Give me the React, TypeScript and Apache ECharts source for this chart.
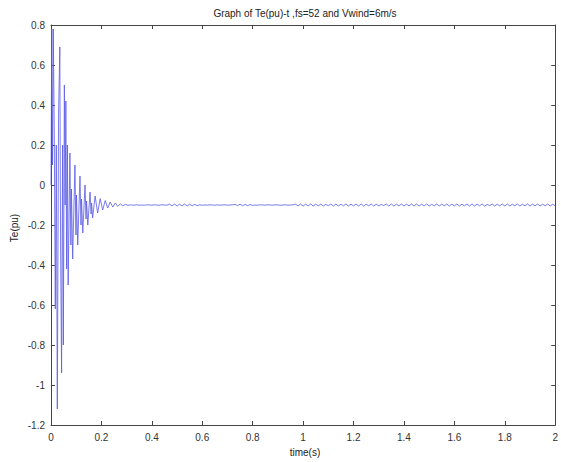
import React, { useEffect, useRef } from "react";
import * as echarts from "echarts";

const TITLE = "Graph of Te(pu)-t ,fs=52 and Vwind=6m/s";
const X_LABEL = "time(s)";
const Y_LABEL = "Te(pu)";
const X_MIN = 0, X_MAX = 2, X_STEP = 0.2;
const Y_MIN = -1.2, Y_MAX = 0.8, Y_STEP = 0.2;

// transient part [time (s), Te (pu)]
const transientTimes = [
  0, 0.003, 0.006, 0.009, 0.013, 0.017, 0.021, 0.025, 0.030, 0.035,
  0.038, 0.042, 0.046, 0.049, 0.053, 0.056, 0.059, 0.062, 0.065, 0.068,
  0.075, 0.079, 0.081, 0.086,
  0.095, 0.099, 0.101, 0.106,
  0.115, 0.119, 0.121, 0.126,
  0.135, 0.139, 0.141, 0.146,
  0.155, 0.159, 0.161, 0.165,
  0.175, 0.185, 0.195, 0.205, 0.215, 0.225, 0.235, 0.245, 0.255, 0.265,
  0.275, 0.285, 0.295, 0.305, 0.315,
];
const transientValues = [
  0, 0.78, 0.1, 0.78, 0.26, -0.62, 0.2, -1.12, 0.35, 0.69,
  -0.3, -0.94, 0.2, -0.8, 0.5, -0.1, 0.42, -0.42, 0.2, -0.5,
  0.16, -0.3, -0.02, -0.37,
  0.1, -0.25, -0.05, -0.3,
  0.045, -0.2, -0.07, -0.24,
  0.0, -0.17, -0.08, -0.2,
  -0.035, -0.145, -0.09, -0.165,
  -0.055, -0.14, -0.068, -0.125, -0.078, -0.115, -0.085, -0.11, -0.09, -0.107,
  -0.094, -0.104, -0.097, -0.102, -0.099,
];

// steady part, sampled every 0.01 s from 0.32 s to 2.00 s
const steadyStart = 0.32;
const steadyStep = 0.01;
const steadyValues = [
  // 0.32 - 0.46
  -0.100, -0.101, -0.099, -0.101, -0.100, -0.101, -0.099, -0.100, -0.101, -0.099, -0.100, -0.101, -0.099, -0.100, -0.101,
  // 0.47 - 0.58
  -0.096, -0.104, -0.095, -0.105, -0.096, -0.104, -0.095, -0.105, -0.096, -0.104, -0.097, -0.103,
  // 0.59 - 0.72
  -0.099, -0.101, -0.100, -0.101, -0.099, -0.100, -0.101, -0.099, -0.101, -0.100, -0.099, -0.101, -0.100, -0.099,
  // 0.73 - 0.80
  -0.097, -0.103, -0.096, -0.104, -0.097, -0.103, -0.098, -0.102,
  // 0.81 - 0.96
  -0.100, -0.101, -0.099, -0.100, -0.101, -0.099, -0.100, -0.101, -0.099, -0.100, -0.101, -0.100, -0.099, -0.101, -0.100, -0.099,
  // 0.97 - 2.00
  -0.096, -0.104, -0.095, -0.105, -0.096, -0.104, -0.095, -0.105,
  -0.096, -0.104, -0.095, -0.105, -0.097, -0.103, -0.095, -0.105,
  -0.095, -0.105, -0.096, -0.104, -0.095, -0.105, -0.096, -0.104,
  -0.095, -0.105, -0.095, -0.105, -0.096, -0.104, -0.095, -0.105,
  -0.096, -0.104, -0.097, -0.103, -0.095, -0.105, -0.095, -0.105,
  -0.096, -0.104, -0.095, -0.105, -0.096, -0.104, -0.095, -0.105,
  -0.095, -0.105, -0.096, -0.104, -0.095, -0.105, -0.097, -0.103,
  -0.095, -0.105, -0.096, -0.104, -0.095, -0.105, -0.096, -0.104,
  -0.095, -0.105, -0.096, -0.104, -0.095, -0.105, -0.095, -0.105,
  -0.096, -0.104, -0.095, -0.105, -0.097, -0.103, -0.095, -0.105,
  -0.096, -0.104, -0.095, -0.105, -0.095, -0.105, -0.096, -0.104,
  -0.095, -0.105, -0.096, -0.104, -0.095, -0.105, -0.096, -0.104,
  -0.095, -0.105, -0.096, -0.104, -0.095, -0.105, -0.096, -0.104,
];

const FONT = "'Liberation Sans', Arial, sans-serif";
const fmt = (v: number) => String(+v.toFixed(1));

export default function App() {
  const ref = useRef<HTMLDivElement>(null);
  useEffect(() => {
    if (!ref.current) return;
    const chart = echarts.init(ref.current, undefined, { renderer: "svg" });
    const data: [number, number][] = [];
    transientTimes.forEach((t, i) => data.push([t, transientValues[i]]));
    steadyValues.forEach((v, i) => data.push([+(steadyStart + i * steadyStep).toFixed(3), v]));

    const axisLine = { show: true, onZero: false, lineStyle: { color: "#444", width: 1 } };
    const tick = { show: true, inside: true, length: 4, lineStyle: { color: "#444" } };
    const label = { color: "#333", fontSize: 10, fontFamily: FONT, formatter: fmt };

    chart.setOption({
      animation: false,
      backgroundColor: "#fff",
      grid: { left: 51, right: 3, top: 25, bottom: 37, containLabel: false },
      xAxis: [
        { type: "value", min: X_MIN, max: X_MAX, interval: X_STEP, position: "bottom",
          axisLine, axisTick: tick, axisLabel: { ...label, margin: 7 }, splitLine: { show: false } },
        { type: "value", min: X_MIN, max: X_MAX, interval: X_STEP, position: "top",
          axisLine, axisTick: tick, axisLabel: { show: false }, splitLine: { show: false } },
      ],
      yAxis: [
        { type: "value", min: Y_MIN, max: Y_MAX, interval: Y_STEP, position: "left",
          axisLine, axisTick: tick, axisLabel: { ...label, margin: 6 }, splitLine: { show: false } },
        { type: "value", min: Y_MIN, max: Y_MAX, interval: Y_STEP, position: "right",
          axisLine, axisTick: tick, axisLabel: { show: false }, splitLine: { show: false } },
      ],
      series: [
        {
          type: "line",
          xAxisIndex: 0,
          yAxisIndex: 0,
          data,
          showSymbol: false,
          symbol: "none",
          lineStyle: { color: "#5a5ae6", width: 1, opacity: 0.8 },
        },
      ],
      graphic: [
        { type: "text", x: 305, y: 13, style: { text: TITLE, fontSize: 10, fontFamily: FONT, fill: "#222", align: "center", verticalAlign: "middle" } },
        { type: "text", x: 305, y: 452, style: { text: X_LABEL, fontSize: 10, fontFamily: FONT, fill: "#222", align: "center", verticalAlign: "middle" } },
        { type: "text", x: 14, y: 228, rotation: Math.PI / 2, style: { text: Y_LABEL, fontSize: 10, fontFamily: FONT, fill: "#222", align: "center", verticalAlign: "middle" } },
      ],
    });
    return () => chart.dispose();
  }, []);
  return (
    <div
      ref={ref}
      style={{ position: "fixed", left: 0, top: 0, width: 561, height: 462, background: "#fff" }}
    />
  );
}
